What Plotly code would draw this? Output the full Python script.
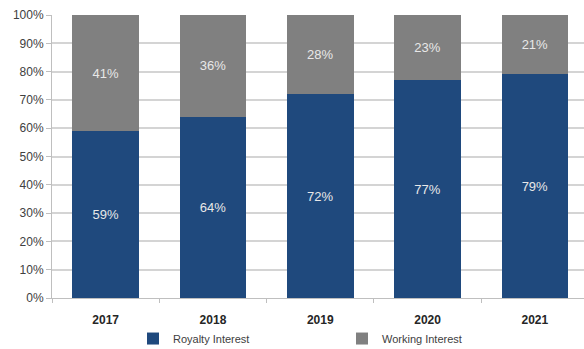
import plotly.graph_objects as go

years = ["2017", "2018", "2019", "2020", "2021"]
royalty = [59, 64, 72, 77, 79]
working = [41, 36, 28, 23, 21]
y_ticks = list(range(0, 101, 10))

FONT = "Liberation Sans Narrow, Liberation Sans, Arial, sans-serif"

fig = go.Figure()
fig.add_trace(go.Bar(
    x=years, y=royalty, name="Royalty Interest",
    marker=dict(color="#1F497D", line=dict(width=0)),
    texttemplate="%{y}%", textposition="inside", insidetextanchor="middle",
    textfont=dict(color="#e8e8e8", size=13, family=FONT),
))
fig.add_trace(go.Bar(
    x=years, y=working, name="Working Interest",
    marker=dict(color="#808080", line=dict(width=0)),
    texttemplate="%{y}%", textposition="inside", insidetextanchor="middle",
    textfont=dict(color="#e8e8e8", size=13, family=FONT),
))

fig.update_layout(
    barmode="stack",
    bargap=0.38,
    width=584, height=349,
    margin=dict(l=52, r=0, t=15, b=51, autoexpand=False),
    paper_bgcolor="white", plot_bgcolor="white",
    font=dict(family=FONT, color="#404040", size=11),
    uniformtext=dict(mode="show", minsize=8),
    legend=dict(
        orientation="h", xref="container", x=133 / 584, xanchor="left",
        yref="container", y=0.03, yanchor="middle",
        font=dict(size=11, color="#404040", family=FONT),
        itemwidth=30, traceorder="normal",
        entrywidth=164,
    ),
    xaxis=dict(
        range=[-0.5, 4.458],
        showline=True, linecolor="#bfbfbf", linewidth=1,
        ticks="outside", tickson="boundaries", ticklen=4, tickcolor="#bfbfbf",
        tickfont=dict(size=12, color="#262626", family="Liberation Sans, Arial, sans-serif", weight="bold"),
        ticklabelstandoff=11,
        showgrid=False,
    ),
    yaxis=dict(
        range=[0, 100],
        tickvals=y_ticks, ticktext=[f"{v}%" for v in y_ticks],
        showline=True, linecolor="#bfbfbf", linewidth=1,
        ticks="outside", ticklen=5, tickcolor="#bfbfbf",
        showgrid=True, gridcolor="#d4d4d4", gridwidth=2,
        tickfont=dict(size=12, color="#404040"),
        zeroline=False,
    ),
)

fig.write_html("out.html")
